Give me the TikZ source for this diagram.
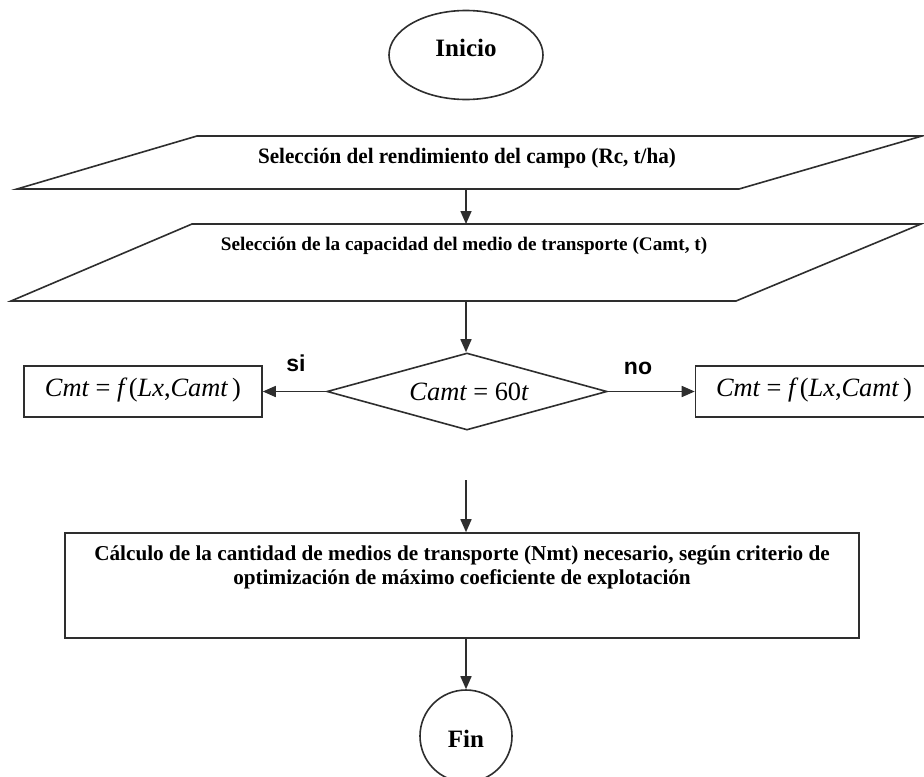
\documentclass[tikz,border=0pt]{standalone}
\usepackage{fontspec}
\setmainfont{Liberation Serif}
\newfontfamily\labfont{Liberation Sans}
\usetikzlibrary{arrows.meta,shapes.geometric}
\begin{document}
\begin{tikzpicture}[x=0.5pt,y=-0.5pt,
  ln/.style={draw=black!82, line width=0.8pt},
  arr/.style={ln, -{Triangle[length=6.5pt,width=5.5pt]}},
  txt/.style={inner sep=0pt, align=center},
  mathtxt/.style={font=\fontsize{13.2}{15}\selectfont\itshape},
  yesno/.style={font=\labfont\bfseries\fontsize{11.5}{13}\selectfont, inner sep=0pt}
]
\useasboundingbox (0,0) rectangle (924,776);
\clip (0,0) rectangle (924,776);
\fill[white] (0,0) rectangle (924,776);

% Inicio
\node[ellipse, ln, minimum width=77pt, minimum height=44.5pt, inner sep=0pt,
      label={[font=\bfseries\fontsize{12.5}{14}\selectfont, yshift=3.5pt]center:Inicio}] (ini) at (466,55) {};

% Parallelogram 1
\coordinate (p1bl) at (17,189);
\coordinate (p1br) at (739,189);
\coordinate (p1tr) at (922,136);
\coordinate (p1tl) at (197,136);
\draw[ln] (p1bl) -- (p1br) -- (p1tr) -- (p1tl) -- cycle;
\node[txt, font=\bfseries\fontsize{11}{13}\selectfont] (p1) at (467,158)
  {\scalebox{0.96}[1]{Selección del rendimiento del campo (Rc, t/ha)}};
\coordinate (p1s) at (466,189);

% Parallelogram 2
\coordinate (p2bl) at (11,301);
\coordinate (p2br) at (736,301);
\coordinate (p2tr) at (921,224);
\coordinate (p2tl) at (192,224);
\draw[ln] (p2bl) -- (p2br) -- (p2tr) -- (p2tl) -- cycle;
\node[txt, font=\bfseries\fontsize{9.6}{12}\selectfont] (p2) at (464,246)
  {Selección de la capacidad del medio de transporte (Camt, t)};
\coordinate (p2n) at (466,224);
\coordinate (p2s) at (466,301);

\draw[arr] (p1s) -- (p2n);

% Decision
\node[diamond, ln, minimum width=140pt, minimum height=38.5pt, inner sep=0pt, aspect=3.6] (dec) at (467,391.5) {};
\node[txt, mathtxt] (dect) at (469,391.5) {Camt {\upshape=} {\upshape 60}t};
\draw[arr] (p2s) -- (p2s |- dec.north);

% Side boxes
\node[ln, rectangle, minimum width=119pt, minimum height=25.5pt, inner sep=0pt] (lb) at (143,391.5) {};
\node[txt, mathtxt] (lbt) at (143,390) {Cmt {\upshape =} f\,{\upshape(}Lx{\upshape,}Camt\,{\upshape)}};
\node[ln, rectangle, minimum width=119pt, minimum height=25.5pt, inner sep=0pt] (rb) at (814.5,391.5) {};
\node[txt, mathtxt] (rbt) at (814,390) {Cmt {\upshape =} f\,{\upshape(}Lx{\upshape,}Camt\,{\upshape)}};

\draw[arr] (dec.west) -- (lb.east);
\draw[arr] (dec.east) -- (rb.west);
\node[yesno] (si) at (296,363) {si};
\node[yesno] (no) at (638,368) {no};

% Bottom process box
\node[ln, rectangle, minimum width=397pt, minimum height=52.5pt, inner sep=0pt] (calc) at (462,585.5) {};
\node[txt, font=\bfseries\fontsize{10.6}{12}\selectfont] (calct) at (462,567)
  {Cálculo de la cantidad de medios de transporte (Nmt) necesario, según criterio de\\
   optimización de máximo coeficiente de explotación};
\coordinate (free) at (466,480);
\draw[arr] (free) -- (free |- calc.north);

% Fin
\node[circle, ln, minimum size=46pt, inner sep=0pt,
      label={[font=\bfseries\fontsize{12.5}{14}\selectfont, yshift=-1.5pt]center:Fin}] (fin) at (466,736) {};
\draw[arr] (fin.north |- calc.south) -- (fin.north);
\end{tikzpicture}
\end{document}
